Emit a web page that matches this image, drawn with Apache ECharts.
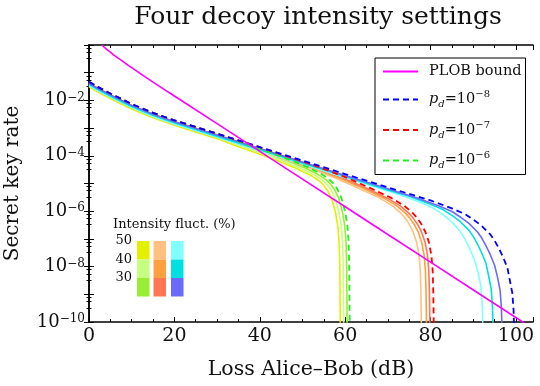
<!DOCTYPE html>
<html><head><meta charset="utf-8">
<script src="https://cdn.jsdelivr.net/npm/echarts@6/dist/echarts.min.js"></script>
<style>html,body{margin:0;padding:0;background:#fff}#c{width:540px;height:386px}</style>
</head><body><div id="c"></div>
<script>
// x: loss Alice-Bob (dB); the *Exp arrays hold log10(secret key rate)
const xTickLabels = [0, 20, 40, 60, 80, 100];
const yTickExps = [-10, -8, -6, -4, -2];
const fluctLevels = ['50', '40', '30'];

const plobLoss = [3, 4, 5, 6, 8, 10, 12, 15, 20, 40, 60, 80, 104];
const plobExp  = [0.0, -0.14, -0.26, -0.38, -0.6, -0.82, -1.03, -1.34, -1.84, -3.84, -5.84, -7.84, -10.24];

const pd8Loss = [0,2,5,10,15,20,30,40,50,60,70,80,85,88,90,92,94,95,96,97,98,98.55,99.15,99.45,99.6,99.75];
const pd8Exp  = [-1.33,-1.51,-1.75,-2.13,-2.45,-2.72,-3.2,-3.69,-4.17,-4.66,-5.14,-5.61,-5.9,-6.1,-6.3,-6.53,-6.84,-7.06,-7.34,-7.66,-8.04,-8.48,-8.95,-9.57,-10.38,-12.08];
const pd8f30Loss = [0,2,5,10,15,20,30,40,50,60,70,77,82,85,87,89,91,92,93,94,95,95.7,96.3,96.6,96.75,96.9];
const pd8f30Exp  = [-1.38,-1.56,-1.8,-2.18,-2.5,-2.77,-3.25,-3.74,-4.22,-4.71,-5.19,-5.53,-5.81,-6.01,-6.21,-6.44,-6.75,-6.97,-7.25,-7.57,-7.95,-8.39,-8.87,-9.48,-10.29,-12.0];
const pd8f40Loss = [0,2,5,10,15,20,30,40,50,60,70,75,80,83,85,87,89,90,91,92,93,93.6,94.2,94.5,94.65,94.8];
const pd8f40Exp  = [-1.42,-1.6,-1.84,-2.22,-2.54,-2.81,-3.29,-3.78,-4.26,-4.75,-5.23,-5.46,-5.75,-5.95,-6.15,-6.38,-6.69,-6.91,-7.19,-7.51,-7.89,-8.33,-8.8,-9.42,-10.23,-11.93];
const pd8f50Loss = [0,2,5,10,15,20,30,40,50,60,70,72.4,77.4,80.4,82.4,84.4,86.4,87.4,88.4,89.4,90.4,91.2,91.8,92.1,92.25,92.4];
const pd8f50Exp  = [-1.46,-1.64,-1.88,-2.26,-2.58,-2.85,-3.33,-3.82,-4.3,-4.79,-5.27,-5.39,-5.67,-5.87,-6.07,-6.3,-6.62,-6.83,-7.11,-7.43,-7.81,-8.25,-8.73,-9.34,-10.15,-11.86];

const pd7Loss = [0,2,5,10,15,20,30,40,50.8,55.8,60.8,65.8,70.8,73.8,75.8,76.8,77.8,78.8,79.6,80.2,80.5,80.65,80.8];
const pd7Exp  = [-1.33,-1.51,-1.75,-2.13,-2.45,-2.72,-3.2,-3.69,-4.24,-4.52,-4.82,-5.16,-5.52,-5.8,-6.06,-6.23,-6.45,-6.75,-7.11,-7.59,-8.15,-8.96,-10.66];
const pd7f30Loss = [0,2,5,10,15,20,30,40,49.9,54.9,59.9,64.9,69.9,72.9,74.9,75.9,76.9,77.9,78.7,79.3,79.6,79.75,79.9];
const pd7f30Exp  = [-1.38,-1.56,-1.8,-2.18,-2.5,-2.77,-3.25,-3.74,-4.25,-4.53,-4.83,-5.16,-5.53,-5.81,-6.07,-6.24,-6.46,-6.75,-7.11,-7.59,-8.16,-8.96,-10.67];
const pd7f40Loss = [0,2,5,10,15,20,30,40,49.1,54.1,59.1,64.1,69.1,72.1,74.1,75.1,76.1,77.1,77.9,78.5,78.8,78.95,79.1];
const pd7f40Exp  = [-1.42,-1.6,-1.84,-2.22,-2.54,-2.81,-3.29,-3.78,-4.25,-4.53,-4.83,-5.16,-5.53,-5.81,-6.07,-6.24,-6.46,-6.75,-7.11,-7.59,-8.16,-8.96,-10.67];
const pd7f50Loss = [0,2,5,10,15,20,30,40,47.9,52.9,57.9,62.9,67.9,70.9,72.9,73.9,74.9,75.9,76.7,77.3,77.6,77.75,77.9];
const pd7f50Exp  = [-1.46,-1.64,-1.88,-2.26,-2.58,-2.85,-3.33,-3.82,-4.23,-4.51,-4.81,-5.15,-5.51,-5.79,-6.05,-6.22,-6.44,-6.74,-7.1,-7.57,-8.14,-8.95,-10.65];

const pd6Loss = [0,2,5,10,15,20,30,36.1,41.1,46.1,51.1,54.1,56.1,57.1,58.1,59.1,59.9,60.5,60.8,60.95,61.1];
const pd6Exp  = [-1.33,-1.51,-1.75,-2.13,-2.45,-2.72,-3.2,-3.54,-3.81,-4.09,-4.4,-4.63,-4.83,-4.98,-5.18,-5.51,-5.95,-6.48,-7.09,-7.9,-10.71];
const pd6f30Loss = [0,2,5,10,15,20,30,35.5,40.5,45.5,50.5,53.5,55.5,56.5,57.5,58.5,59.3,59.9,60.2,60.35,60.5];
const pd6f30Exp  = [-1.39,-1.57,-1.81,-2.19,-2.51,-2.78,-3.26,-3.57,-3.84,-4.12,-4.43,-4.66,-4.86,-5.01,-5.21,-5.54,-5.98,-6.51,-7.13,-7.93,-10.74];
const pd6f40Loss = [0,2,5,10,15,20,30,34.7,39.7,44.7,49.7,52.7,54.7,55.7,56.7,57.7,58.5,59.1,59.4,59.55,59.7];
const pd6f40Exp  = [-1.45,-1.63,-1.87,-2.25,-2.57,-2.84,-3.32,-3.59,-3.86,-4.14,-4.46,-4.68,-4.88,-5.03,-5.24,-5.56,-6.0,-6.53,-7.15,-7.95,-10.76];
const pd6f50Loss = [0,2,5,10,15,20,30,33.9,38.9,43.9,48.9,51.9,53.9,54.9,55.9,56.9,57.7,58.3,58.6,58.75,58.9];
const pd6f50Exp  = [-1.51,-1.69,-1.93,-2.31,-2.63,-2.9,-3.38,-3.61,-3.88,-4.16,-4.48,-4.7,-4.9,-5.05,-5.26,-5.59,-6.02,-6.55,-7.17,-7.97,-10.78];

const FONT = 'DejaVu Serif';
function pts(L, E) { return L.map((x, i) => [x, Math.pow(10, E[i])]); }

// colours of the intensity-fluctuation curves (rows 50%,40%,30%)
const shade = {
  g: {'50': '#e2f000', '40': '#c6ff80', '30': '#99ee33'},
  r: {'50': '#ffc080', '40': '#ffa040', '30': '#ff7755'},
  b: {'50': '#80ffff', '40': '#00e0e0', '30': '#6a6aff'}
};

function solid(name, L, E, color) {
  return { name, type: 'line', data: pts(L, E), showSymbol: false, symbol: 'none', smooth: false,
    lineStyle: { color, width: 1.6, join: 'round' }, itemStyle: { color }, z: 2, silent: true };
}
function dashed(name, L, E, color) {
  return { name, type: 'line', data: pts(L, E), showSymbol: false, symbol: 'none', smooth: false,
    lineStyle: { color, width: 1.8, type: [6, 4], join: 'round' }, itemStyle: { color }, z: 3, silent: true };
}

const series = [
  solid('g50', pd6f50Loss, pd6f50Exp, shade.g['50']),
  solid('g40', pd6f40Loss, pd6f40Exp, shade.g['40']),
  solid('g30', pd6f30Loss, pd6f30Exp, shade.g['30']),
  solid('r50', pd7f50Loss, pd7f50Exp, shade.r['50']),
  solid('r40', pd7f40Loss, pd7f40Exp, shade.r['40']),
  solid('r30', pd7f30Loss, pd7f30Exp, shade.r['30']),
  solid('b50', pd8f50Loss, pd8f50Exp, shade.b['50']),
  solid('b40', pd8f40Loss, pd8f40Exp, shade.b['40']),
  solid('b30', pd8f30Loss, pd8f30Exp, shade.b['30']),
  dashed('pd6', pd6Loss, pd6Exp, '#22ee22'),
  dashed('pd7', pd7Loss, pd7Exp, '#ff0000'),
  dashed('pd8', pd8Loss, pd8Exp, '#0000ff'),
  { name: 'PLOB bound', type: 'line', data: pts(plobLoss, plobExp), showSymbol: false, symbol: 'none', smooth: 0.3,
    lineStyle: { color: '#ff00ff', width: 1.6 }, itemStyle: { color: '#ff00ff' }, z: 4, silent: true }
];

const supRich = {
  base: { fontFamily: FONT, fontSize: 18, color: '#111', lineHeight: 18, verticalAlign: 'bottom', padding: [3, 0, 0, 0] },
  sup: { fontFamily: FONT, fontSize: 12, color: '#111', lineHeight: 12, verticalAlign: 'top' }
};

function expOf(v) { return Math.round(Math.log10(v) * 1000) / 1000; }

const xCommon = { type: 'value', min: 0, max: 104, interval: 20,
  axisLine: { show: true, lineStyle: { color: '#000', width: 1.5 } },
  axisTick: { show: true, inside: true, length: 5, lineStyle: { color: '#000', width: 1 } },
  minorTick: { show: true, splitNumber: 4, length: 3, lineStyle: { color: '#000', width: 1 } },
  splitLine: { show: false } };
const yCommon = { type: 'log', logBase: 10, min: 1e-10, max: 1, interval: 1,
  axisLine: { show: true, lineStyle: { color: '#000', width: 1.5 } },
  axisTick: { show: true, inside: true, length: 5, lineStyle: { color: '#000', width: 1 } },
  minorTick: { show: true, splitNumber: 4, length: 2.5, lineStyle: { color: '#000', width: 1 } },
  splitLine: { show: false } };

const option = {
  backgroundColor: '#fff',
  animation: false,
  title: { text: 'Four decoy intensity settings', left: 313, top: 0, textAlign: 'center',
    textStyle: { fontFamily: FONT, fontSize: 25, fontWeight: 'normal', color: '#111' } },
  grid: { left: 89, right: 7, top: 45, bottom: 64, containLabel: false, outerBoundsMode: 'none' },
  xAxis: [
    Object.assign({}, xCommon, { position: 'bottom',
      name: 'Loss Alice\u2013Bob (dB)', nameLocation: 'middle', nameGap: 37,
      nameTextStyle: { fontFamily: FONT, fontSize: 20.5, color: '#111' },
      axisLabel: { show: true, margin: 5, fontFamily: FONT, fontSize: 19, color: '#111',
        formatter: v => (xTickLabels.indexOf(v) >= 0 ? String(v) : '') } }),
    Object.assign({}, xCommon, { position: 'top', axisLabel: { show: false } })
  ],
  yAxis: [
    Object.assign({}, yCommon, { position: 'left',
      name: 'Secret key rate', nameLocation: 'middle', nameGap: 66, nameRotate: 90,
      nameTextStyle: { fontFamily: FONT, fontSize: 20, color: '#111' },
      axisLabel: { show: true, margin: 4, rich: supRich,
        formatter: v => { const e = expOf(v); return yTickExps.indexOf(e) >= 0 ? '{base|10}{sup|\u2212' + (-e) + '}' : ''; } } }),
    Object.assign({}, yCommon, { position: 'right', axisLabel: { show: false } })
  ],
  legend: {
    data: ['PLOB bound', 'pd8', 'pd7', 'pd6'],
    orient: 'vertical', left: 375, top: 58, itemWidth: 35, itemHeight: 12, itemGap: 10.5,
    padding: [6, 4, 4, 7], borderColor: '#000', borderWidth: 1, backgroundColor: '#fff',
    selectedMode: false, itemStyle: { opacity: 0 },
    textStyle: { fontFamily: FONT, fontSize: 14.5, color: '#111', padding: [0, 0, 0, 6],
      rich: {
        t: { fontFamily: FONT, fontSize: 14.5, color: '#111', lineHeight: 20, verticalAlign: 'middle' },
        it: { fontFamily: FONT, fontSize: 14.5, fontStyle: 'italic', color: '#111', lineHeight: 20, verticalAlign: 'middle' },
        sub: { fontFamily: FONT, fontSize: 10, fontStyle: 'italic', color: '#111', lineHeight: 10, verticalAlign: 'bottom' },
        sup: { fontFamily: FONT, fontSize: 10, color: '#111', lineHeight: 10, verticalAlign: 'top' }
      } },
    formatter: name => {
      if (name === 'PLOB bound') return '{t|PLOB bound}';
      const e = name.slice(2);
      return '{it|p}{sub|d}{t|=10}{sup|\u2212' + e + '}';
    }
  },
  graphic: [],
  series
};

// intensity-fluctuation colour key
const cols = ['g', 'r', 'b'];
const colX = [137, 153.5, 171];
const rowY = [241, 259.5, 278];
const g = [];
g.push({ type: 'text', left: 113, top: 218, style: { text: 'Intensity fluct. (%)', font: '13px "DejaVu Serif"', fill: '#111' } });
fluctLevels.forEach((lv, ri) => {
  cols.forEach((c, ci) => {
    g.push({ type: 'rect', shape: { x: colX[ci], y: rowY[ri], width: 12.5, height: 18.5 }, style: { fill: shade[c][lv] } });
  });
  g.push({ type: 'text', x: 132, y: rowY[ri], style: { text: lv, font: '13px "DejaVu Serif"', fill: '#111', textAlign: 'right', textVerticalAlign: 'middle' } });
});
option.graphic = g;

const chart = echarts.init(document.getElementById('c'), null, { renderer: 'canvas' });
chart.setOption(option);
</script></body></html>
